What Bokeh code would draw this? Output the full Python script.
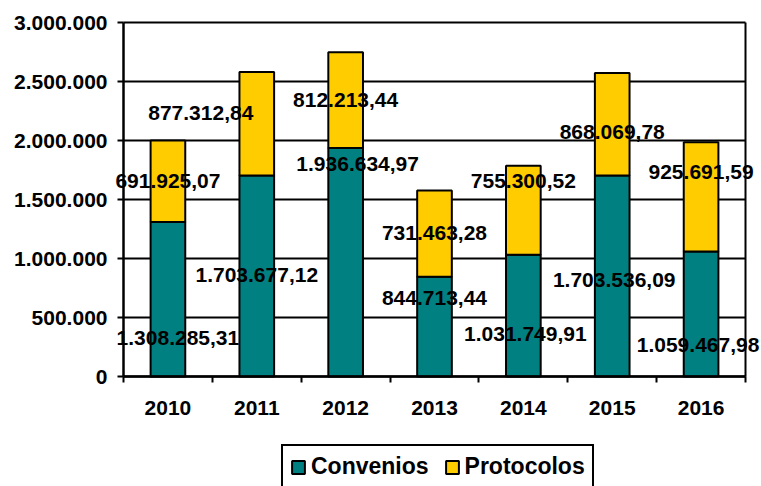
from bokeh.plotting import figure
from bokeh.models import (ColumnDataSource, FixedTicker, Legend, LegendItem, Range1d,
                          LabelSet, LinearAxis)
from bokeh.core.properties import value
from bokeh.embed import file_html
from bokeh.resources import INLINE

years = ["2010", "2011", "2012", "2013", "2014", "2015", "2016"]
convenios = [1308285.31, 1703677.12, 1936634.97, 844713.44, 1031749.91, 1703536.09, 1059467.98]
protocolos = [691925.07, 877312.84, 812213.44, 731463.28, 755300.52, 868069.78, 925691.59]
y_ticks = [0, 500000, 1000000, 1500000, 2000000, 2500000, 3000000]
y_tick_labels = ["0", "500.000", "1.000.000", "1.500.000", "2.000.000", "2.500.000", "3.000.000"]

# label placement (as in the original, hand-moved labels)
conv_label_y = [330000, 856000, 1805000, 669000, 364000, 822000, 263000]
prot_label_y = [1661000, 2237000, 2347000, 1212000, 1661000, 2068000, 1729000]
conv_label_dx = [10, 0, 12, 0, 2, 2, -3]
prot_label_dx = [0, -56, 0, 0, 0, 0, 0]

FONT = "Liberation Sans"
TEAL = "#008080"
GOLD = "#FFCC00"


def fmt(v):
    s = f"{v:,.2f}"
    return s.replace(",", "X").replace(".", ",").replace("X", ".")


n = len(years)
ymax = y_ticks[-1]
xs = [i + 0.5 for i in range(n)]
src = ColumnDataSource(dict(x=xs, year=years, Convenios=convenios, Protocolos=protocolos))

# canvas geometry: plot box is x 123..745, y 22..376 inside a 761x486 canvas
W, H = 761, 486
BL, BR, BT, BB = 123, 745, 22, 376
ux = (BR - BL) / n
uy = ymax / (BB - BT)
x_range = Range1d(-BL / ux, (W - BL) / ux)
y_range = Range1d(-(H - BB) * uy, ymax + BT * uy)

p = figure(width=W, height=H, output_backend="svg", toolbar_location=None,
           x_range=x_range, y_range=y_range, x_axis_location=None, y_axis_location=None,
           min_border=0)
p.background_fill_color = "white"
p.border_fill_color = "white"
p.outline_line_color = None
p.xgrid.visible = False

# horizontal grid lines (also give the top border), limited to the plot box
if "cross_bounds" in p.ygrid.properties():
    p.ygrid.ticker = FixedTicker(ticks=y_ticks)
    p.ygrid.grid_line_color = "black"
    p.ygrid.grid_line_width = 2
    p.ygrid.cross_bounds = (0, n)
    p.ygrid.level = "underlay"
else:
    p.ygrid.visible = False
    p.segment(x0=[0] * len(y_ticks), x1=[n] * len(y_ticks), y0=y_ticks, y1=y_ticks,
              line_color="black", line_width=2, level="underlay")

rs = p.vbar_stack(["Convenios", "Protocolos"], x="x", width=0.39, source=src,
                  color=[TEAL, GOLD], line_color="black", line_width=2)

# y axis
yax = LinearAxis(fixed_location=0, bounds=(0, ymax), ticker=FixedTicker(ticks=y_ticks),
                 major_label_overrides={t: l for t, l in zip(y_ticks, y_tick_labels)},
                 axis_line_width=2.5, major_tick_line_width=2, major_tick_out=6,
                 major_tick_in=0, minor_tick_line_color=None, major_label_standoff=10,
                 major_label_text_font=FONT, major_label_text_font_style="bold",
                 major_label_text_font_size="21px", major_label_text_color="black")
p.add_layout(yax, "left")

# right border of the plot box
rax = LinearAxis(fixed_location=n, bounds=(0, ymax), axis_line_width=2,
                 major_tick_line_color=None, minor_tick_line_color=None,
                 major_label_text_font_size="0px", major_label_text_alpha=0)
p.add_layout(rax, "right")

# x axis
xax = LinearAxis(fixed_location=0, bounds=(0, n),
                 ticker=FixedTicker(ticks=xs, minor_ticks=list(range(n + 1))),
                 major_label_overrides={x: y for x, y in zip(xs, years)},
                 axis_line_width=2.5, major_tick_line_color=None, major_tick_out=0,
                 major_tick_in=0, minor_tick_line_width=2, minor_tick_out=6,
                 minor_tick_in=0, major_label_standoff=18,
                 major_label_text_font=FONT, major_label_text_font_style="bold",
                 major_label_text_font_size="21px", major_label_text_color="black")
p.add_layout(xax, "below")

# data labels
lab_src = ColumnDataSource(dict(
    x=xs + xs,
    y=conv_label_y + prot_label_y,
    dx=conv_label_dx + prot_label_dx,
    t=[fmt(v) for v in convenios] + [fmt(v) for v in protocolos],
))
labels = LabelSet(x="x", y="y", text="t", x_offset="dx", source=lab_src,
                  text_align="center", text_baseline="middle",
                  text_font=value(FONT), text_font_style="bold", text_font_size="21px",
                  text_color="black")
p.add_layout(labels)

legend = Legend(items=[LegendItem(label="Convenios", renderers=[rs[0]]),
                       LegendItem(label="Protocolos", renderers=[rs[1]])],
                orientation="horizontal", location=(281, -3),
                border_line_color="black", border_line_width=2, border_line_alpha=1,
                padding=7, margin=0, spacing=15, label_standoff=5,
                glyph_width=16, glyph_height=16,
                label_text_font=FONT, label_text_font_style="bold",
                label_text_font_size="23px", label_text_color="black",
                background_fill_color="white", background_fill_alpha=1)
p.add_layout(legend, "center")

open("out.html", "w").write(file_html(p, INLINE))
